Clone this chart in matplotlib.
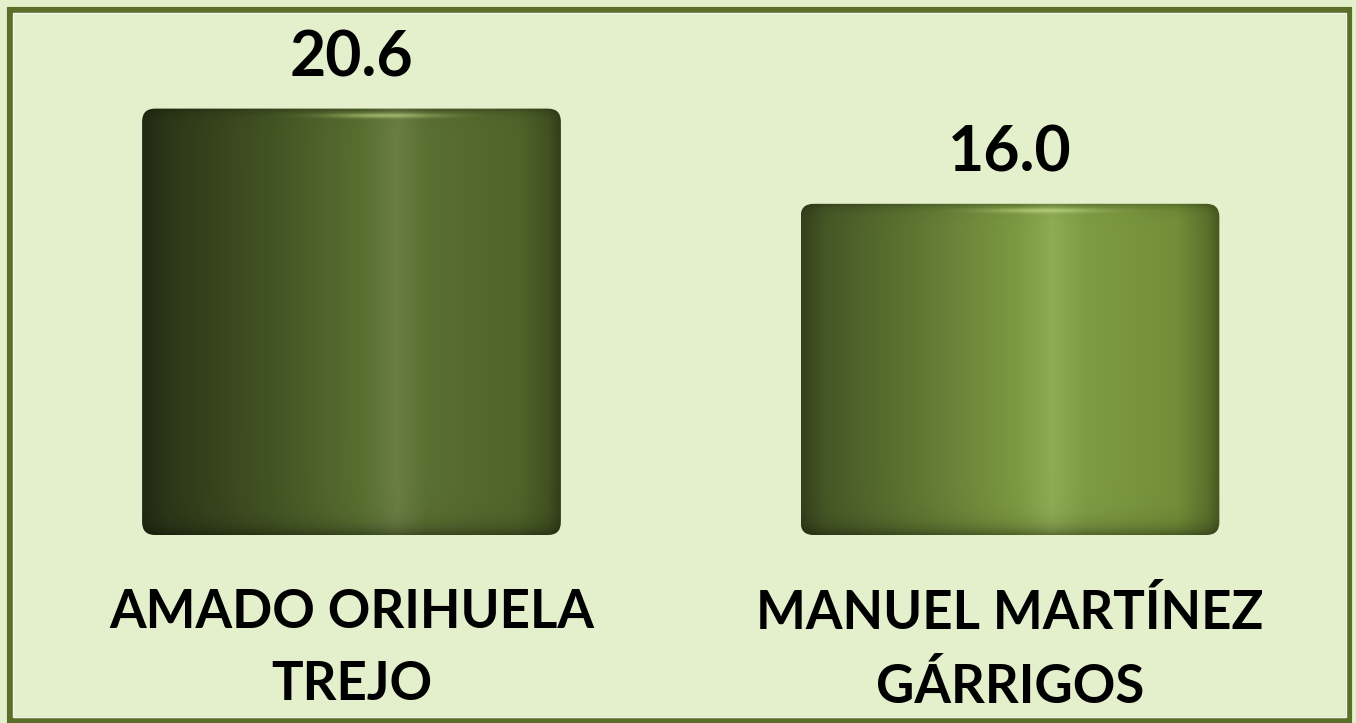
import numpy as np
import matplotlib.pyplot as plt
from matplotlib.patches import FancyBboxPatch, Rectangle

names = ['AMADO ORIHUELA\nTREJO', 'MANUEL MARTÍNEZ\nGÁRRIGOS']
values = [20.6, 16.0]
value_text = ['20.6', '16.0']

BG = '#E4EFCB'
FRAME = '#5B6E2A'

# horizontal shading across each cylinder (position, rgb)
shades = [
    [(0.0, (34, 42, 18)), (0.06, (44, 55, 24)), (0.3, (66, 83, 35)),
     (0.52, (88, 110, 48)), (0.61, (106, 126, 68)), (0.68, (90, 111, 50)),
     (0.9, (80, 100, 42)), (0.97, (66, 82, 34)), (1.0, (50, 62, 26))],
    [(0.0, (52, 64, 28)), (0.06, (70, 88, 38)), (0.3, (98, 122, 52)),
     (0.52, (124, 154, 66)), (0.6, (142, 172, 84)), (0.68, (126, 156, 68)),
     (0.9, (114, 142, 56)), (0.97, (92, 114, 44)), (1.0, (72, 88, 34))],
]


def cylinder_image(stops, h_px):
    nx, ny = 300, int(h_px)
    xs = np.linspace(0, 1, nx)
    pos = [s[0] for s in stops]
    rgb = np.array([s[1] for s in stops], dtype=float) / 255
    row = np.stack([np.interp(xs, pos, rgb[:, c]) for c in range(3)], axis=-1)
    img = np.repeat(row[None, :, :], ny, axis=0)
    yy = np.arange(ny)[:, None]  # pixel rows from top
    # darker rim at top and bottom
    top = np.exp(-yy / 5.0) * 0.25
    bot = np.exp(-(ny - 1 - yy) / 9.0) * 0.35
    img = img * (1 - top - bot)[:, :, None]
    # thin highlight near the top
    hl = np.exp(-((yy - 7) / 2.5) ** 2) * np.exp(-((xs[None, :] - 0.58) / 0.14) ** 2) * 0.5
    img = img + (np.array([0.85, 0.95, 0.6]) - img) * hl[:, :, None]
    return np.clip(img, 0, 1)


fig = plt.figure(figsize=(13.56, 7.23), dpi=100, facecolor=BG)
ax = fig.add_axes([0.01641, 0.2600, 0.9712, 0.7123])
ax.set_facecolor('none')
ax.set_xlim(-0.5, 1.5)
ax.set_ylim(0, 24.88)
ax.axis('off')

x = np.arange(len(values))
bars = ax.bar(x, values, width=0.636, color=FRAME, alpha=0)

px_x = 1317 / 2.0
px_y = 515 / 24.88
for i, b in enumerate(bars):
    bx, by, bw, bh = b.get_x(), b.get_y(), b.get_width(), b.get_height()
    r = 13 / px_x
    patch = FancyBboxPatch((bx, by), bw, bh,
                           boxstyle=f'round,pad=0,rounding_size={r}',
                           mutation_aspect=px_x / px_y,
                           facecolor='none', edgecolor='none')
    ax.add_patch(patch)
    img = cylinder_image(shades[i], bh * px_y)
    im = ax.imshow(img, extent=(bx, bx + bw, by, by + bh), aspect='auto',
                   interpolation='bilinear', zorder=2)
    im.set_clip_path(patch)
    ax.annotate(value_text[i], (x[i], values[i]), xytext=(0, 23),
                textcoords='offset points', ha='center', va='baseline',
                fontsize=45, fontweight='bold', family='Lato', color='black')

for i, name in enumerate(names):
    ax.text(x[i], -0.103, name, transform=ax.get_xaxis_transform(),
            ha='center', va='top', fontsize=38, fontweight='bold',
            family='Lato', linespacing=1.58, color='black')

ax.set_xlim(-0.5, 1.5)
ax.set_ylim(0, 24.88)

fig.patches.append(Rectangle((10 / 1356, 3 / 723), 1339 / 1356, 710 / 723,
                             transform=fig.transFigure, fill=False,
                             edgecolor=FRAME, linewidth=4.4))
fig.patches.append(Rectangle((13 / 1356, 6 / 723), 1333 / 1356, 704 / 723,
                             transform=fig.transFigure, fill=False,
                             edgecolor='#F4F8EA', linewidth=1.0))

fig.savefig('out.png', dpi=100, facecolor=BG)
